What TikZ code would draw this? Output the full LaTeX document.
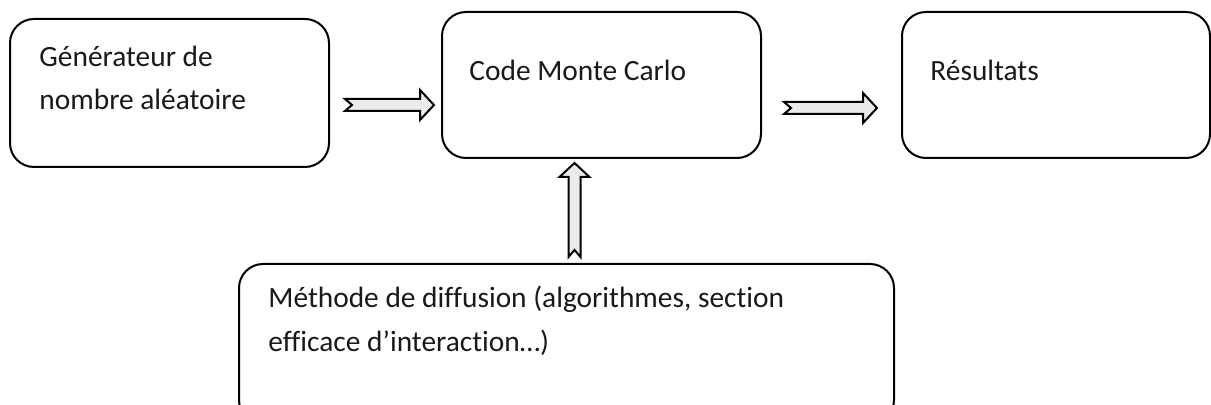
\documentclass[tikz,border=0pt]{standalone}
\usepackage{fontspec}
\setmainfont[Ligatures=NoCommon]{Carlito}
\usetikzlibrary{calc}
\definecolor{arrowfill}{HTML}{EBEBEB}
\tikzset{
  box/.style={draw, line width=1pt, rounded corners=12pt, inner sep=0pt, anchor=north west},
  txt/.style={anchor=base west, inner sep=0pt, font=\fontsize{14.7}{21.5}\selectfont, text=black!90},
  arrowbody/.style={draw, line width=1pt, fill=arrowfill, line join=miter},
  pics/blockarrow/.style={code={
    \draw[arrowbody] (0,6) -- ({#1-14},6) -- ({#1-14},15) -- (#1,0)
      -- ({#1-14},-15) -- ({#1-14},-6) -- (0,-6) -- (7,0) -- cycle;
  }}
}
\begin{document}
\begin{tikzpicture}[x=0.5pt, y=-0.5pt]
  \useasboundingbox (0,0) rectangle (1211,405);
  \clip (0,0) rectangle (1211,405);
  % boxes
  \node[box, minimum width=159.5pt, minimum height=74pt] (gen) at (9,18) {};
  \node[box, minimum width=159.5pt, minimum height=73pt] (mc) at (441,11) {};
  \node[box, minimum width=154pt, minimum height=73pt] (res) at (901,11) {};
  \node[box, minimum width=327.5pt, minimum height=80pt] (meth) at (238,263) {};
  % labels
  \node[txt] (genA) at ($(gen.north west)+(30,49)$) {Générateur de};
  \node[txt] (genB) at ($(gen.north west)+(30,92)$) {nombre aléatoire};
  \node[txt] (mcA) at ($(mc.north west)+(28,70)$) {Code Monte Carlo};
  \node[txt] (resA) at ($(res.north west)+(29,70)$) {Résultats};
  \node[txt] (methA) at ($(meth.north west)+(30,45)$) {Méthode de diffusion (algorithmes, section};
  \node[txt] (methB) at ($(meth.north west)+(30,89)$) {efficace d’interaction…)};
  % block arrows between the stages
  \coordinate (a1) at ($(gen.east)+(15,12)$);
  \coordinate (a2) at ($(mc.east)+(22,23)$);
  \coordinate (a3) at ($(meth.north)+(8,-6)$);
  \pic at (a1) {blockarrow=89};
  \pic at (a2) {blockarrow=93};
  \pic[rotate=90] at (a3) {blockarrow=94};
\end{tikzpicture}
\end{document}
